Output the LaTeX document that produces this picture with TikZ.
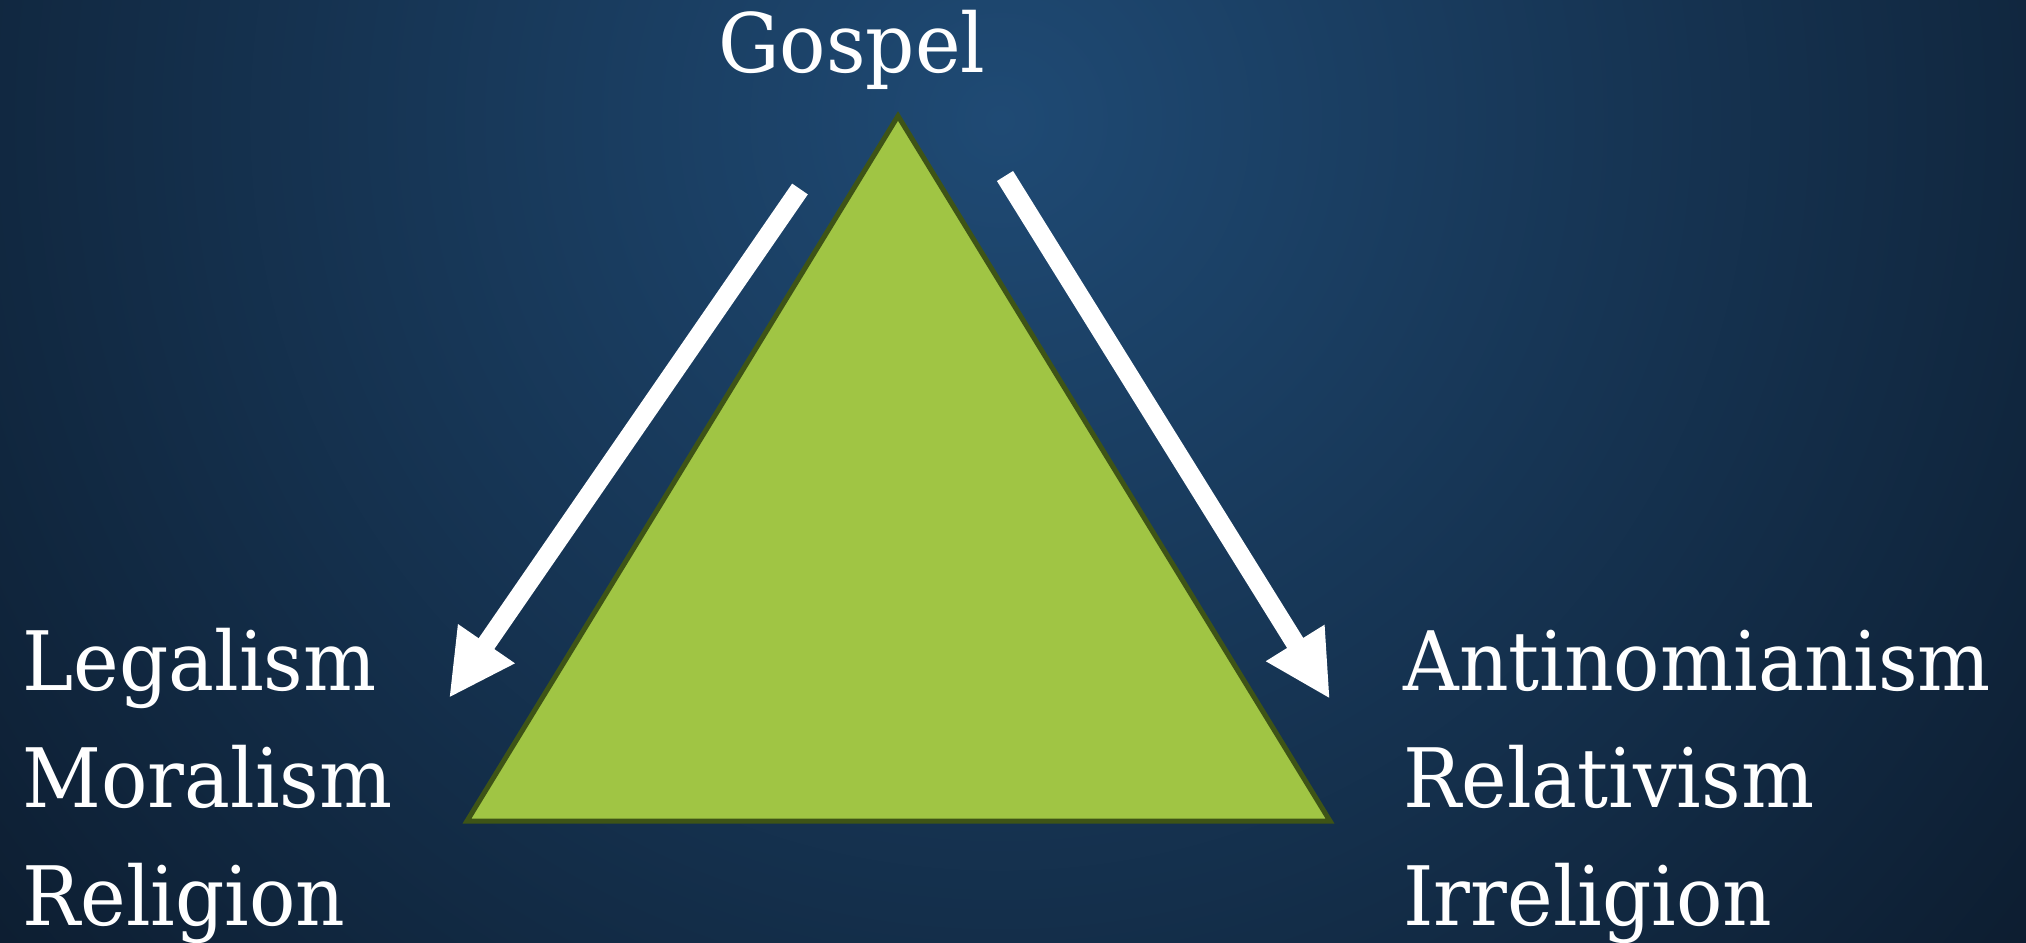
\documentclass[tikz,border=0pt]{standalone}
\usepackage{fontspec}
\setmainfont[FakeStretch=0.94]{DejaVu Serif}
\usetikzlibrary{arrows.meta}
\definecolor{bgin}{HTML}{1F4A74}
\definecolor{bgout}{HTML}{0A1727}
\definecolor{trifill}{HTML}{A0C544}
\definecolor{triline}{HTML}{3E5416}
\tikzset{
  lbl/.style={anchor=base west, text=white, inner sep=0pt, font=\fontsize{41}{41}\selectfont},
  bigarrow/.style={draw=white, line width=9.5pt, -{Triangle[width=32pt,length=33pt]}},
}
\begin{document}
\begin{tikzpicture}[x=0.5pt,y=-0.5pt]
\useasboundingbox (0,0) rectangle (2026,943);
\begin{scope}
\clip (0,0) rectangle (2026,943);
\fill[bgout] (0,0) rectangle (2026,943);
\shade[inner color=bgin, outer color=bgout] (1000,120) circle (1500);
\end{scope}
% triangle
\coordinate (apex) at (898,116);
\coordinate (bl) at (467,821);
\coordinate (br) at (1330,821);
\filldraw[fill=trifill, draw=triline, line width=2.5pt, line join=miter] (apex) -- (bl) -- (br) -- cycle;
% arrows
\coordinate (ltail) at (800,189);
\coordinate (ltip) at (449,698);
\coordinate (rtail) at (1005,176);
\coordinate (rtip) at (1330,699);
\draw[bigarrow] (ltail) -- (ltip);
\draw[bigarrow] (rtail) -- (rtip);
% labels
\node[lbl] (gospel) at (718,72) {Gospel};
\node[lbl] (l1) at (22,690) {Legalism};
\node[lbl] (l2) at (22,807) {Moralism};
\node[lbl] (l3) at (22,925) {Religion};
\node[lbl] (r1) at (1403,690) {Antinomianism};
\node[lbl] (r2) at (1403,807) {Relativism};
\node[lbl] (r3) at (1403,925) {Irreligion};
\end{tikzpicture}
\end{document}
